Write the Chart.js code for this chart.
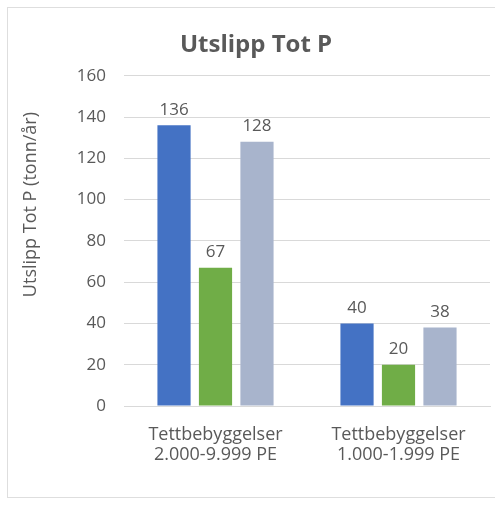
<!DOCTYPE html>
<html>
<head>
<meta charset="utf-8">
<script src="https://cdn.jsdelivr.net/npm/chart.js@4/dist/chart.umd.min.js"></script>
<style>
  html, body { margin: 0; padding: 0; background: #fff; }
  .frame {
    position: absolute; left: 7px; top: 7px; width: 500px; height: 491px;
    border: 1px solid #dedede; box-sizing: border-box;
  }
  .chart-container { position: absolute; left: 0; top: 0; width: 495px; height: 510px; }
</style>
</head>
<body>
<div class="frame"></div>
<div class="chart-container">
  <canvas id="chart"></canvas>
</div>
<script>
const categories = [
  ['Tettbebyggelser', '2.000-9.999 PE'],
  ['Tettbebyggelser', '1.000-1.999 PE'],
];
const seriesA = [136, 40];
const seriesB = [67, 20];
const seriesC = [128, 38];
const colors = ['#4472C4', '#70AD47', '#A8B4CC'];
const yTitle = 'Utslipp Tot P (tonn/år)';

const textColor = '#595959';
const font = 'Open Sans, sans-serif';

// value labels above each bar, plus the y axis title (sits a bit above centre)
const barLabels = {
  id: 'barLabels',
  afterDatasetsDraw(chart) {
    const ctx = chart.ctx;
    ctx.save();
    ctx.fillStyle = textColor;
    ctx.font = '17px ' + font;
    ctx.textAlign = 'center';
    ctx.textBaseline = 'bottom';
    chart.data.datasets.forEach((ds, i) => {
      chart.getDatasetMeta(i).data.forEach((bar, j) => {
        ctx.fillText(ds.data[j], bar.x, bar.y - 7);
      });
    });

    const area = chart.chartArea;
    ctx.translate(31, area.top + (area.bottom - area.top) * 0.39);
    ctx.rotate(-Math.PI / 2);
    ctx.font = '18px ' + font;
    ctx.textBaseline = 'middle';
    ctx.fillText(yTitle, 0, 0);
    ctx.restore();
  }
};

const canvas = document.getElementById('chart');
const chartInstance = new Chart(canvas.getContext('2d'), {
  type: 'bar',
  data: {
    labels: categories,
    datasets: [
      { data: seriesA, backgroundColor: colors[0] },
      { data: seriesB, backgroundColor: colors[1] },
      { data: seriesC, backgroundColor: colors[2] },
    ],
  },
  options: {
    responsive: true,
    maintainAspectRatio: false,
    animation: false,
    categoryPercentage: 0.68,
    barPercentage: 0.8,
    layout: { padding: { top: 9, left: 22, right: 5, bottom: 0 } },
    plugins: {
      legend: { display: false },
      tooltip: { enabled: false },
      title: {
        display: true,
        text: 'Utslipp Tot P',
        color: textColor,
        font: { family: font, size: 24, weight: 'bold', lineHeight: 1.2 },
        padding: { top: 22, bottom: 16 },
      },
    },
    scales: {
      x: {
        grid: { display: false, drawTicks: false },
        border: { color: '#d9d9d9' },
        ticks: {
          color: textColor,
          font: { family: font, size: 18, lineHeight: 1.12 },
          padding: 19,
          maxRotation: 0,
        },
        afterFit(scale) { scale.height = 104; },
      },
      y: {
        min: 0,
        max: 160,
        grid: { color: '#d9d9d9', drawTicks: false },
        border: { display: false },
        ticks: {
          stepSize: 20,
          color: textColor,
          font: { family: font, size: 17 },
          padding: 18,
        },
        afterFit(scale) { scale.width = 102; },
      },
    },
  },
  plugins: [barLabels],
});
</script>
</body>
</html>
